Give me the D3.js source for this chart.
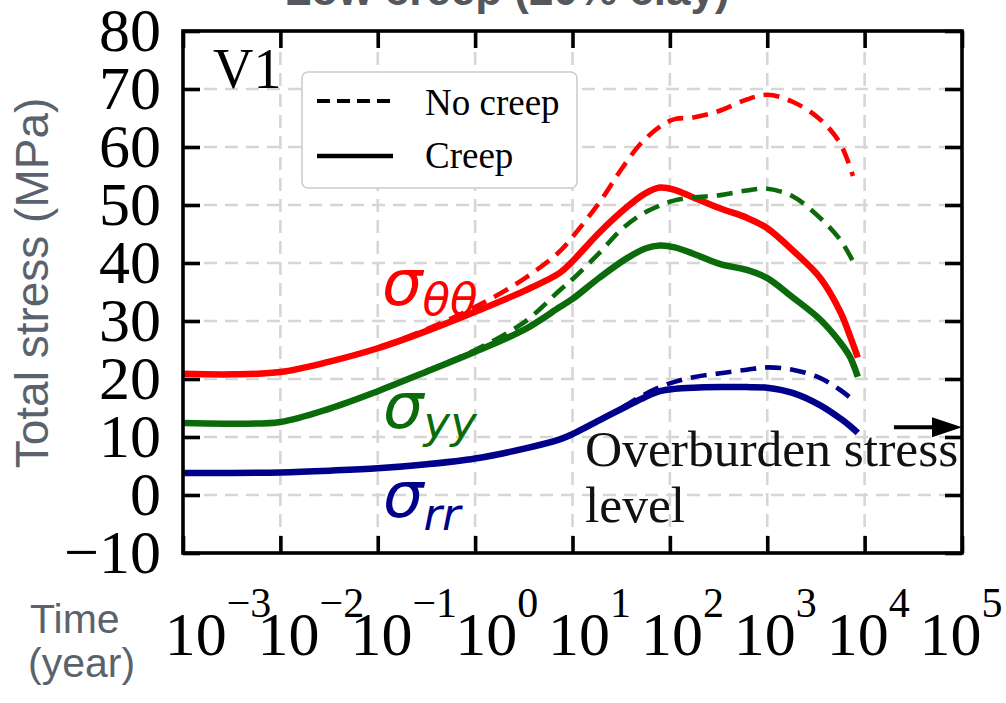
<!DOCTYPE html>
<html>
<head>
<meta charset="utf-8">
<script src="https://cdn.jsdelivr.net/npm/d3@7"></script>
<style>
  body { margin: 0; background: #fff; }
  svg { display: block; }
</style>
</head>
<body>
<svg id="chart" width="1006" height="703"></svg>
<script>
// ---- data: time in years, total stress in MPa ----
const creepTime   = [0.001, 0.0032, 0.01, 0.032, 0.1, 0.32, 1, 3.2, 7.4, 10, 19, 36, 56, 79, 112, 174, 331, 617, 1000, 1820, 3470, 5620, 7080, 8510];
const thetaCreep  = [20.9, 20.8, 21.2, 23.0, 25.3, 28.3, 31.6, 35.2, 38.3, 40.3, 45.3, 49.6, 52.0, 53.0, 52.6, 51.3, 49.4, 47.8, 46.0, 42.2, 37.5, 31.6, 27.4, 23.7];
const yyCreep     = [12.4, 12.3, 12.6, 14.9, 17.9, 21.3, 24.7, 28.5, 32.4, 33.8, 37.5, 40.8, 42.5, 43.0, 42.7, 41.6, 39.8, 38.8, 37.4, 34.1, 30.3, 26.3, 23.8, 20.4];
const rrCreep     = [3.8, 3.8, 3.9, 4.2, 4.6, 5.3, 6.3, 8.0, 9.6, 10.5, 12.9, 15.3, 16.9, 17.9, 18.3, 18.5, 18.6, 18.6, 18.5, 17.6, 15.5, 13.2, 11.9, 10.7];

const noCreepTime  = [0.001, 0.0032, 0.01, 0.032, 0.1, 0.32, 1, 3.2, 7.4, 10, 19, 31, 49, 79, 112, 174, 331, 617, 1000, 1820, 3470, 5620, 7590];
const thetaNoCreep = [20.9, 20.8, 21.2, 23.0, 25.4, 28.6, 32.4, 37.3, 42.0, 44.5, 50.5, 55.9, 60.4, 63.5, 64.8, 65.1, 66.3, 68.2, 69.0, 67.8, 64.8, 60.6, 55.0];
const yyNoCreep    = [12.4, 12.3, 12.6, 14.9, 17.9, 21.4, 25.0, 29.8, 35.3, 37.2, 41.8, 45.6, 48.2, 49.9, 50.8, 51.3, 51.7, 52.5, 52.8, 51.5, 47.8, 44.0, 40.3];
const rrNoCreep    = [3.8, 3.8, 3.9, 4.2, 4.6, 5.3, 6.3, 8.0, 9.6, 10.5, 12.9, 14.9, 16.9, 18.6, 19.5, 20.3, 21.0, 21.6, 22.0, 21.6, 20.2, 18.1, 16.4];

const timeTicks   = [1e-3, 1e-2, 1e-1, 1e0, 1e1, 1e2, 1e3, 1e4, 1e5];
const timeExps    = [-3, -2, -1, 0, 1, 2, 3, 4, 5];
const stressTicks = [-10, 0, 10, 20, 30, 40, 50, 60, 70, 80];
const overburdenStress = 11.7;

// ---- layout ----
const svg = d3.select("#chart");
const plotLeft = 183, plotRight = 962, plotTop = 31, plotBottom = 553;
const serif = "'Liberation Serif', 'Times New Roman', serif";
const sans  = "'Liberation Sans', Arial, sans-serif";
const mathFont = "'DejaVu Sans', sans-serif";

const x = d3.scaleLog().domain([1e-3, 1e5]).range([plotLeft, plotRight]);
const y = d3.scaleLinear().domain([-10, 80]).range([plotBottom, plotTop]);
// tick labels are laid out on an evenly spaced row of their own
const labelX = d3.scaleLinear().domain([-3, 5]).range([218, 961]);

svg.append("rect").attr("width", 1006).attr("height", 703).attr("fill", "#fff");

// ---- grid ----
const grid = svg.append("g").attr("stroke", "#d6d6d6").attr("stroke-width", 2.6)
  .attr("stroke-dasharray", "13,8").attr("fill", "none");
grid.selectAll("line.v").data(timeTicks.slice(1, -1)).join("line").attr("class", "v")
  .attr("x1", d => x(d)).attr("x2", d => x(d)).attr("y1", plotTop).attr("y2", plotBottom);
grid.selectAll("line.h").data(stressTicks.slice(1, -1)).join("line").attr("class", "h")
  .attr("x1", plotLeft).attr("x2", plotRight).attr("y1", d => y(d)).attr("y2", d => y(d));

// ---- curves ----
const line = d3.line().x(d => x(d[0])).y(d => y(d[1])).curve(d3.curveCatmullRom.alpha(0.5));
const zip = (t, v) => t.map((ti, i) => [ti, v[i]]);
const series = [
  { t: creepTime,   v: thetaCreep,   color: "#ff0000", dash: null },
  { t: creepTime,   v: yyCreep,      color: "#0b6b0b", dash: null },
  { t: creepTime,   v: rrCreep,      color: "#00008b", dash: null },
  { t: noCreepTime, v: thetaNoCreep, color: "#ff0000", dash: "16,9" },
  { t: noCreepTime, v: yyNoCreep,    color: "#0b6b0b", dash: "16,9" },
  { t: noCreepTime, v: rrNoCreep,    color: "#00008b", dash: "16,9" }
];
svg.append("g").selectAll("path").data(series).join("path")
  .attr("d", s => line(zip(s.t, s.v)))
  .attr("fill", "none")
  .attr("stroke", s => s.color)
  .attr("stroke-width", s => s.dash ? 4.6 : 6.5)
  .attr("stroke-dasharray", s => s.dash)
  .attr("stroke-linecap", "butt");

// ---- series labels ----
const seriesLabels = [
  { sub: "θθ", color: "#ff0000", px: 382, py: 305, dy: 10 },
  { sub: "yy", color: "#0b6b0b", px: 383, py: 428, dy: 10 },
  { sub: "rr", color: "#00008b", px: 383, py: 517, dy: 13 }
];
seriesLabels.forEach(l => {
  const t = svg.append("text").attr("x", l.px).attr("y", l.py)
    .attr("fill", l.color).attr("font-family", mathFont).attr("font-style", "italic");
  t.append("tspan").attr("font-size", 64).text("σ");
  t.append("tspan").attr("font-size", 45).attr("dy", l.dy).text(l.sub);
});

// ---- overburden annotation ----
const yOb = y(overburdenStress);
svg.append("line").attr("x1", x(2e4)).attr("x2", x(1e5) - 28)
  .attr("y1", yOb).attr("y2", yOb)
  .attr("stroke", "#000").attr("stroke-width", 4);
svg.append("path")
  .attr("d", `M${x(1e5) - 30},${yOb - 10} L${x(1e5)},${yOb} L${x(1e5) - 30},${yOb + 10} Z`)
  .attr("fill", "#000");
svg.append("text").attr("x", 585).attr("y", 466).attr("font-family", serif).attr("font-size", 51.5)
  .attr("fill", "#111").text("Overburden stress");
svg.append("text").attr("x", 585).attr("y", 522).attr("font-family", serif).attr("font-size", 51.5)
  .attr("fill", "#111").text("level");

// ---- legend ----
const lg = svg.append("g");
lg.append("rect").attr("x", 302).attr("y", 72).attr("width", 275).attr("height", 116).attr("rx", 6)
  .attr("fill", "#fff").attr("stroke", "#cccccc").attr("stroke-width", 1.6);
lg.append("line").attr("x1", 317).attr("x2", 393).attr("y1", 101).attr("y2", 101)
  .attr("stroke", "#000").attr("stroke-width", 4).attr("stroke-dasharray", "13,7");
lg.append("line").attr("x1", 317).attr("x2", 393).attr("y1", 156).attr("y2", 156)
  .attr("stroke", "#000").attr("stroke-width", 4.4);
lg.append("text").attr("x", 425).attr("y", 115).attr("font-family", serif).attr("font-size", 37).text("No creep");
lg.append("text").attr("x", 425).attr("y", 168).attr("font-family", serif).attr("font-size", 37).text("Creep");

// ---- panel tag ----
svg.append("text").attr("x", 213).attr("y", 88).attr("font-family", serif).attr("font-size", 56).text("V1");

// ---- axes: inward ticks on all four sides ----
const tickStyle = g => {
  g.select(".domain").remove();
  g.selectAll(".tick line").attr("stroke", "#000").attr("stroke-width", 3.6);
};
svg.append("g").attr("transform", `translate(0,${plotBottom})`)
  .call(d3.axisBottom(x).tickValues(timeTicks).tickSize(-17).tickFormat(""))
  .call(tickStyle);
svg.append("g").attr("transform", `translate(0,${plotTop})`)
  .call(d3.axisTop(x).tickValues(timeTicks).tickSize(-17).tickFormat(""))
  .call(tickStyle);
svg.append("g").attr("transform", `translate(${plotRight},0)`)
  .call(d3.axisRight(y).tickValues(stressTicks).tickSize(-17).tickFormat(""))
  .call(tickStyle);
const yAxis = svg.append("g").attr("transform", `translate(${plotLeft},0)`)
  .call(d3.axisLeft(y).tickValues(stressTicks).tickSize(-17).tickPadding(22).tickFormat(d3.format("d")))
  .call(tickStyle);
yAxis.selectAll(".tick text").attr("font-family", serif).attr("font-size", 62).attr("fill", "#000");

// frame
svg.append("rect").attr("x", plotLeft).attr("y", plotTop)
  .attr("width", plotRight - plotLeft).attr("height", plotBottom - plotTop)
  .attr("fill", "none").attr("stroke", "#000").attr("stroke-width", 3.6);

// x tick labels as powers of ten
const xl = svg.append("g").attr("font-family", serif).attr("fill", "#000");
xl.selectAll("text").data(timeExps).join("text")
  .attr("x", d => labelX(d)).attr("y", 655).attr("text-anchor", "middle")
  .each(function (d) {
    const t = d3.select(this);
    t.append("tspan").attr("font-size", 62).text("10");
    t.append("tspan").attr("font-size", 42).attr("dy", -38).text(d3.format("d")(d));
  });

// ---- axis titles ----
svg.append("text").attr("transform", "translate(48,283) rotate(-90)").attr("text-anchor", "middle")
  .attr("font-family", sans).attr("font-size", 46).attr("fill", "#5a636d").text("Total stress (MPa)");
svg.append("text").attr("x", 30).attr("y", 633).attr("font-family", sans).attr("font-size", 41)
  .attr("fill", "#5a636d").text("Time");
svg.append("text").attr("x", 28).attr("y", 677).attr("font-family", sans).attr("font-size", 41)
  .attr("fill", "#5a636d").text("(year)");

// ---- title ----
svg.append("text").attr("x", 507).attr("y", 5).attr("text-anchor", "middle")
  .attr("font-family", sans).attr("font-weight", "bold").attr("font-size", 44)
  .attr("fill", "#54575c").text("Low creep (20% clay)");
</script>
</body>
</html>
